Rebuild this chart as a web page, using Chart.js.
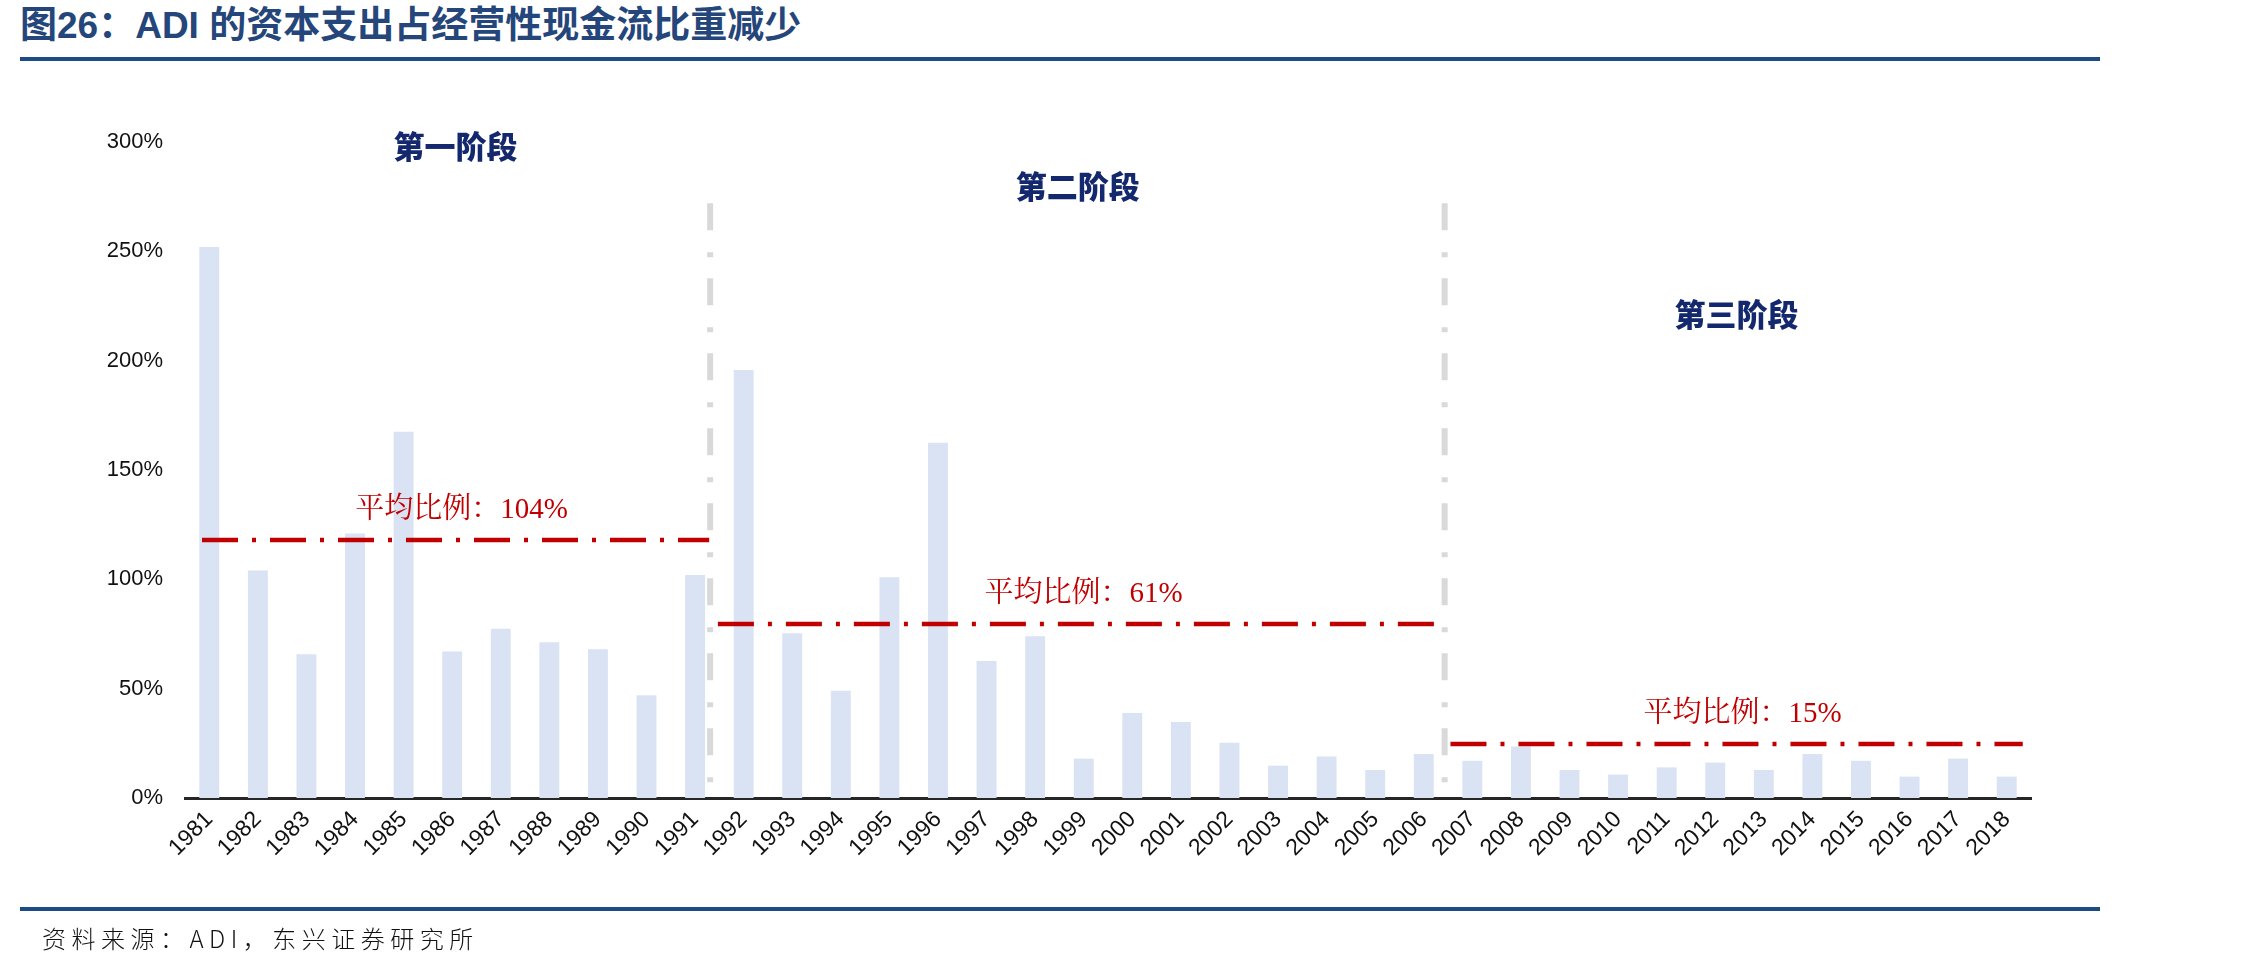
<!DOCTYPE html>
<html>
<head>
<meta charset="utf-8">
<script src="https://cdn.jsdelivr.net/npm/chart.js@4.4.1/dist/chart.umd.min.js"></script>
<style>
html,body{margin:0;padding:0;background:#fff;width:2268px;height:968px;overflow:hidden;}
#wrap{position:relative;width:2268px;height:968px;}
#c{position:absolute;left:0;top:0;}
#title{position:absolute;left:20px;top:3px;font-weight:bold;font-size:37px;font-family:"Liberation Sans Narrow","Liberation Sans","Noto Sans CJK SC",sans-serif;color:#24467a;white-space:nowrap;line-height:46px;}
.rule{position:absolute;left:20px;width:2080px;background:#1d4b85;}
#src{position:absolute;left:42px;top:922px;font-size:24px;font-weight:300;letter-spacing:5.5px;font-family:"Noto Sans CJK SC",sans-serif;color:#111;white-space:nowrap;line-height:32px;}
</style>
</head>
<body>
<div id="wrap">
  <div id="title">图26：ADI 的资本支出占经营性现金流比重减少</div>
  <div class="rule" style="top:57px;height:4px;"></div>
  <canvas id="c" width="2268" height="968"></canvas>
  <div class="rule" style="top:907px;height:4px;"></div>
  <div id="src">资料来源：ADI，东兴证券研究所</div>
</div>
<script>
// ---- data ----
const years = ['1981','1982','1983','1984','1985','1986','1987','1988','1989','1990','1991',
  '1992','1993','1994','1995','1996','1997','1998','1999','2000','2001','2002','2003','2004','2005','2006',
  '2007','2008','2009','2010','2011','2012','2013','2014','2015','2016','2017','2018'];
const capexRatio = [252,104,65.7,121,167.5,67,77.4,71.2,68,47,102,
  195.7,75.3,49,101,162.5,62.6,74,18,38.9,34.7,25.3,14.8,19,12.8,20.1,
  17,23.5,12.8,10.7,14,16.2,12.8,20.1,17,9.8,18,9.8];
const yTicks = [0,50,100,150,200,250,300];
const phaseNames = ['第一阶段','第二阶段','第三阶段'];
const phaseAvgLabels = ['平均比例：104%','平均比例：61%','平均比例：15%'];
const phaseLineLevels = [118, 79.6, 24.7];
const dividerTop = 272;

// ---- layout constants (category-index space) ----
const phaseSpans = [[-0.15,10.29],[10.47,25.28],[25.55,37.33]];
const dividerPos = [10.31, 25.43];
const stageLabelVal = [297.9, 279.6, 221.3];

const datasets = [{
  type:'bar', data:capexRatio, backgroundColor:'#dae3f3', borderWidth:0, grouped:false,
  barPercentage:0.41, categoryPercentage:1, order:3, xAxisID:'x', yAxisID:'y'
}];
phaseSpans.forEach((s,i)=>{
  datasets.push({
    type:'line', xAxisID:'x2', yAxisID:'y', order:0,
    data:[{x:s[0],y:phaseLineLevels[i]},{x:s[1],y:phaseLineLevels[i]}],
    borderColor:'#c00000', borderWidth:4.5, borderDash:[36,14,4,14], borderCapStyle:'butt',
    pointRadius:0, fill:false, tension:0
  });
});
dividerPos.forEach(d=>{
  datasets.push({
    type:'line', xAxisID:'x2', yAxisID:'y', order:1,
    data:[{x:d,y:dividerTop},{x:d,y:0}],
    borderColor:'#d9d9d9', borderWidth:6, borderDash:[27,22,5,21], borderCapStyle:'butt',
    pointRadius:0, fill:false, tension:0
  });
});

const phaseText = {
  id:'phaseText',
  afterDatasetsDraw(chart){
    const {ctx} = chart; const x2 = chart.scales.x2, y = chart.scales.y;
    ctx.save();
    ctx.textAlign='center'; ctx.textBaseline='middle';
    phaseNames.forEach((name,i)=>{
      const s = phaseSpans[i];
      const mid = (x2.getPixelForValue(s[0]) + x2.getPixelForValue(s[1]))/2;
      ctx.font = '900 31px "Noto Sans CJK SC", sans-serif';
      ctx.fillStyle = '#14286e';
      ctx.fillText(name, mid, y.getPixelForValue(stageLabelVal[i]));
      ctx.font = '29px "Liberation Serif", "Noto Serif CJK SC", "Noto Sans CJK SC", serif';
      ctx.fillStyle = '#c00000';
      ctx.fillText(phaseAvgLabels[i], mid+6, y.getPixelForValue(phaseLineLevels[i]) - 30);
    });
    ctx.restore();
  }
};

new Chart(document.getElementById('c'), {
  type:'bar',
  data:{labels:years, datasets},
  options:{
    responsive:false, animation:false,
    layout:{padding:{left:0,right:237,top:142,bottom:0}},
    plugins:{legend:{display:false}, tooltip:{enabled:false}},
    scales:{
      x:{
        type:'category', offset:true,
        grid:{display:false, drawTicks:false},
        border:{display:true, color:'#262626', width:3},
        ticks:{autoSkip:false, minRotation:45, maxRotation:45, padding:8,
          color:'#111', font:{family:'"Liberation Sans", Arial, sans-serif', size:23}},
        afterFit(s){ s.height = 170; }
      },
      x2:{ type:'linear', display:false, offset:false, min:-0.5, max:37.5, grid:{offset:false} },
      y:{
        min:0, max:300,
        grid:{display:false, drawTicks:false},
        border:{display:false},
        ticks:{padding:22, color:'#111', font:{family:'"Liberation Sans", Arial, sans-serif', size:22},
          callback:v=>v+'%'},
        afterBuildTicks(s){ s.ticks = yTicks.map(v=>({value:v})); },
        afterFit(s){ s.width = 185; }
      }
    }
  },
  plugins:[phaseText]
});
</script>
</body>
</html>
